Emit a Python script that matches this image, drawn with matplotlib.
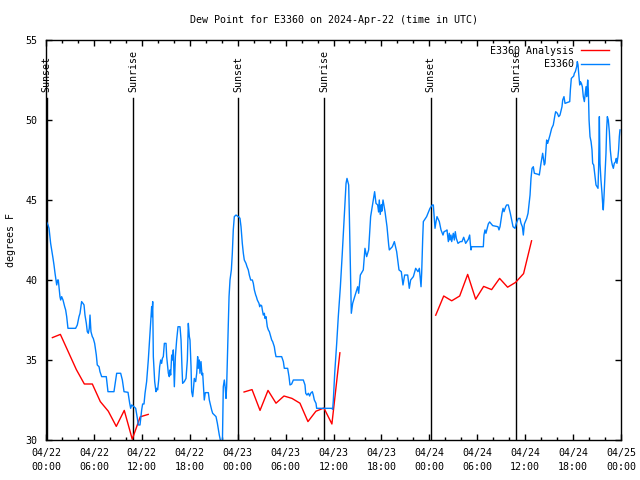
import numpy as np
import matplotlib
matplotlib.use('Agg')
import matplotlib.pyplot as plt

# hours after 2024-04-22 00:00 UTC
analysis_hours = [0.8, 1.8, 2.8, 3.8, 4.8, 5.8, 6.8, 7.8, 8.8, 9.8, 10.8, 11.8, 12.8, np.nan,
                  24.8, 25.8, 26.8, 27.8, 28.8, 29.8, 30.8, 31.8, 32.8, 33.8, 34.8, 35.8, 36.8, np.nan,
                  48.8, 49.8, 50.8, 51.8, 52.8, 53.8, 54.8, 55.8, 56.8, 57.8, 58.8, 59.8, 60.8]
analysis_dewpt = [36.4, 36.6, 35.5, 34.4, 33.5, 33.5, 32.4, 31.8, 30.85, 31.85, 30.05, 31.45, 31.6, np.nan,
                  33.0, 33.15, 31.85, 33.1, 32.3, 32.75, 32.6, 32.3, 31.15, 31.8, 32.0, 31.0, 35.45, np.nan,
                  37.8, 39.0, 38.7, 39.0, 40.35, 38.8, 39.6, 39.4, 40.1, 39.55, 39.85, 40.4, 42.45]

obs_hours = [0.1, 0.25, 0.38, 0.58, 0.75, 0.88, 1.0, 1.13, 1.25, 1.34, 1.46, 1.54, 1.63, 1.75, 1.84,
             1.96, 2.13, 2.34, 2.46, 2.59, 2.75, 3.71, 3.92, 4.13, 4.26, 4.46, 4.63, 4.76, 4.88, 5.05,
             5.17, 5.3, 5.42, 5.51, 5.63, 5.8, 5.92, 6.09, 6.3, 6.42, 6.64, 6.76, 6.97, 7.55, 7.76,
             8.51, 8.72, 8.85, 9.35, 9.56, 9.77, 10.27, 10.48, 10.6, 10.73, 11.02, 11.23, 11.44, 11.56,
             11.77, 11.98, 12.1, 12.27, 12.4, 12.6, 12.81, 13.02, 13.15, 13.23, 13.27, 13.36, 13.44,
             13.61, 13.77, 13.86, 13.98, 14.11, 14.23, 14.36, 14.48, 14.57, 14.69, 14.82, 15.03, 15.11,
             15.32, 15.44, 15.53, 15.61, 15.74, 15.86, 15.94, 16.07, 16.2, 16.36, 16.53, 16.78, 16.91,
             17.03, 17.11, 17.32, 17.53, 17.7, 17.82, 17.95, 18.03, 18.16, 18.24, 18.37, 18.45, 18.57,
             18.74, 18.87, 18.99, 19.07, 19.2, 19.28, 19.41, 19.53, 19.62, 19.82, 19.95, 20.33, 20.45,
             20.62, 20.74, 20.87, 21.29, 21.46, 21.58, 21.7, 21.83, 21.95, 22.08, 22.2, 22.33, 22.45,
             22.54, 22.62, 22.71, 22.83, 22.92, 23.04, 23.21, 23.33, 23.45, 23.58, 23.79, 23.96, 24.2,
             24.29, 24.42, 24.58, 24.71, 24.83, 25.04, 25.17, 25.33, 25.46, 25.63, 25.84, 25.96, 26.09,
             26.26, 26.34, 26.46, 26.67, 26.76, 26.88, 27.01, 27.09, 27.21, 27.34, 27.42, 27.55, 27.71,
             27.84, 27.97, 28.09, 28.26, 28.38, 28.59, 28.68, 28.8, 29.51, 29.72, 29.84, 30.26, 30.43,
             30.55, 30.76, 30.97, 32.22, 32.43, 32.52, 32.68, 32.85, 33.01, 33.14, 33.35, 33.47, 33.6,
             33.81, 33.89, 35.77, 35.9, 35.98, 36.06, 36.15, 36.4, 36.6, 36.86, 37.1, 37.35, 37.57,
             37.69, 37.9, 37.98, 38.15, 38.23, 38.4, 38.78, 39.03, 39.15, 39.36, 39.73, 39.94, 40.15,
             40.4, 40.65, 40.91, 41.15, 41.32, 41.53, 41.65, 41.73, 41.85, 41.98, 42.05, 42.2, 42.45,
             42.7, 42.91, 42.99, 43.37, 43.62, 43.91, 44.2, 44.49, 44.7, 44.91, 45.29, 45.49, 45.66,
             46.0, 46.29, 46.58, 46.75, 46.96, 47.04, 47.17, 47.25, 47.66, 48.08, 48.37, 48.5, 48.71,
             48.84, 48.96, 49.25, 49.46, 49.71, 49.84, 50.09, 50.21, 50.38, 50.5, 50.59, 50.71, 50.8,
             51.0, 51.13, 51.25, 51.38, 51.59, 51.88, 52.09, 52.3, 52.55, 52.88, 53.05, 53.13, 53.22,
             53.3, 54.76, 54.84, 54.97, 55.09, 55.38, 55.55, 55.93, 56.6, 56.72, 56.85, 57.1, 57.23,
             57.35, 57.56, 57.68, 57.89, 58.14, 58.35, 58.48, 58.73, 58.89, 59.14, 59.35, 59.48, 59.65,
             59.77, 59.9, 60.19, 60.36, 60.48, 60.61, 60.73, 60.86, 61.02, 61.15, 61.65, 61.77, 61.98,
             62.19, 62.4, 62.48, 62.69, 62.82, 63.11, 63.32, 63.52, 63.73, 63.82, 64.03, 64.2, 64.36,
             64.61, 64.7, 64.86, 64.99, 65.58, 65.66, 65.78, 66.08, 66.16, 66.28, 66.45, 66.53, 66.62,
             66.7, 66.83, 66.91, 67.04, 67.16, 67.28, 67.41, 67.53, 67.62, 67.7, 67.83, 67.91, 68.0,
             68.12, 68.25, 68.37, 68.45, 68.58, 68.7, 68.79, 68.87, 69.12, 69.2, 69.29, 69.37, 69.49,
             69.62, 69.7, 69.78, 69.87, 70.0, 70.12, 70.2, 70.29, 70.41, 70.54, 70.66, 70.79, 70.91,
             71.04, 71.16, 71.33, 71.41, 71.49, 71.62, 71.7, 71.79, 71.87]
obs_dewpt = [43.6, 43.44, 43.23, 42.29, 41.77, 41.35, 40.94, 40.42, 40.0, 39.69, 40.0, 40.0, 39.58, 38.96, 38.75,
             38.96, 38.75, 38.33, 38.13, 37.71, 36.98, 36.98, 37.19, 37.71, 37.92, 38.65, 38.54, 38.44, 37.81, 37.29,
             36.77, 36.67, 36.98, 37.81, 36.77, 36.46, 36.35, 36.04, 35.31, 34.69, 34.58, 34.27, 33.96, 33.96, 33.02,
             33.02, 33.75, 34.17, 34.17, 33.75, 33.02, 32.98, 32.29, 31.98, 32.19, 32.08, 31.98, 31.35, 30.94,
             30.94, 31.88, 32.25, 32.25, 32.92, 33.65, 35.0, 36.67, 37.71, 38.33, 37.71, 38.65, 35.21,
             33.65, 33.02, 33.23, 33.13, 33.75, 34.58, 35.0, 34.79, 35.1, 35.21, 36.04, 36.04, 35.21,
             34.17, 33.96, 34.38, 34.06, 35.31, 35.0, 35.63, 33.33, 35.21, 36.25, 37.08, 37.08, 36.25,
             34.48, 33.54, 33.65, 33.85, 35.0, 37.29, 36.46, 36.25, 34.58, 33.02, 32.71, 33.13, 33.85,
             33.65, 34.17, 35.21, 34.48, 35.0, 34.17, 34.9, 34.06, 34.17, 32.5, 32.96, 32.96, 32.5,
             32.13, 31.88, 31.67, 31.46, 31.04, 30.67, 30.31, 30.0, 29.5, 29.5, 33.33, 33.75, 33.23,
             32.6, 33.33, 35.0, 37.19, 38.96, 40.0, 40.63, 41.67, 43.13, 43.96, 44.06, 44.0, 43.92,
             43.85, 43.33, 42.29, 41.67, 41.25, 41.04, 40.83, 40.63, 40.31, 40.0, 40.0, 39.79, 39.38,
             39.06, 38.96, 38.75, 38.54, 38.33, 38.44, 38.38, 38.13, 37.81, 37.92, 37.6, 37.71, 37.08,
             36.88, 36.77, 36.56, 36.25, 36.15, 35.83, 35.52, 35.21, 35.21, 34.9, 34.48, 34.48, 33.96,
             33.44, 33.5, 33.75, 33.75, 33.44, 32.92, 32.81, 32.92, 32.75, 32.92, 33.02, 32.81, 32.5,
             32.29, 31.98, 31.98, 31.92, 32.5, 33.33, 34.17, 36.04, 37.71, 39.58, 41.67, 44.06, 46.04,
             46.35, 45.94, 44.17, 39.79, 37.92, 38.54, 39.17, 39.58, 39.17, 40.31, 40.63, 41.98, 41.46,
             41.88, 43.96, 44.79, 45.52, 44.79, 44.69, 44.25, 45.0, 44.1, 44.7, 44.3, 45.0, 44.27,
             43.33, 42.19, 41.88, 42.08, 42.4, 41.77, 40.63, 40.52, 39.69, 40.31, 40.31, 39.48, 40.0,
             40.21, 40.73, 40.52, 40.73, 39.58, 40.42, 42.6, 43.65, 43.96, 44.48, 44.69, 44.69, 43.23,
             43.65, 43.96, 43.65, 43.13, 42.81, 43.02, 43.08, 43.13, 42.4, 42.92, 42.5, 42.81, 42.4,
             42.92, 42.5, 43.02, 42.6, 42.29, 42.4, 42.4, 42.67, 42.29, 42.54, 42.81, 42.29, 41.88,
             42.08, 42.08, 42.81, 43.13, 42.92, 43.5, 43.63, 43.4, 43.33, 43.13, 43.33, 44.17, 44.48,
             44.27, 44.58, 44.69, 44.69, 44.17, 43.65, 43.33, 43.23, 43.54, 43.85, 43.85, 43.54, 43.33,
             42.81, 43.5, 43.85, 44.17, 44.69, 45.31, 46.35, 46.98, 47.08, 46.67, 46.6, 46.56, 47.29,
             47.92, 47.19, 47.29, 48.75, 48.54, 49.06, 49.48, 49.69, 50.31, 50.52, 50.42, 50.21, 50.31,
             50.83, 51.25, 51.46, 51.04, 51.15, 51.88, 52.6, 52.75, 52.92, 53.02, 53.33, 53.65, 53.44,
             52.92, 52.19, 52.4, 52.29, 52.08, 51.46, 51.15, 51.67, 52.08, 51.46, 52.5, 51.88, 50.0,
             48.96, 48.65, 48.13, 47.29, 47.19, 46.67, 46.25, 45.94, 45.73, 47.08, 50.21, 47.29, 46.25,
             45.42, 44.79, 44.38, 45.21, 46.56, 47.92, 49.38, 50.21, 50.0, 49.27, 48.13, 47.5, 47.19,
             46.98, 47.29, 47.4, 47.6, 47.29, 47.71, 48.13, 48.96, 49.38]

sun_hours = [0.1, 10.9, 24.08, 34.85, 48.15, 58.85]
sun_labels = ['Sunset', 'Sunrise', 'Sunset', 'Sunrise', 'Sunset', 'Sunrise']

tick_hours = [0, 6, 12, 18, 24, 30, 36, 42, 48, 54, 60, 66, 72]
tick_labels = ['04/22\n00:00', '04/22\n06:00', '04/22\n12:00', '04/22\n18:00',
               '04/23\n00:00', '04/23\n06:00', '04/23\n12:00', '04/23\n18:00',
               '04/24\n00:00', '04/24\n06:00', '04/24\n12:00', '04/24\n18:00',
               '04/25\n00:00']

plt.rcParams['font.family'] = ['DejaVu Sans Mono']
plt.rcParams['font.size'] = 7.2

fig = plt.figure(figsize=(6.4, 4.8), dpi=100)
ax = fig.add_axes([46/640, 40/480, 575/640, 400/480])

for h, lab in zip(sun_hours, sun_labels):
    ax.plot([h, h], [30, 51.4], color='black', lw=1.0)
    ax.text(h, 51.75, lab, rotation=90, ha='center', va='bottom')

ax.plot(analysis_hours, analysis_dewpt, color='#ff0000', lw=1.0, label='E3360 Analysis')
ax.plot(obs_hours, obs_dewpt, color='#0080ff', lw=1.0, label='E3360')

ax.set_xlim(0, 72)
ax.set_ylim(30, 55)
ax.set_xticks(tick_hours)
ax.set_xticklabels(tick_labels, linespacing=1.45)
ax.set_xticks(np.arange(0, 73, 2), minor=True)
ax.set_yticks([30, 35, 40, 45, 50, 55])
ax.tick_params(which='both', direction='in', top=True, right=True, width=1)
ax.tick_params(which='major', length=4.5, pad=6)
ax.tick_params(which='minor', length=2.5)
for s in ax.spines.values():
    s.set_linewidth(1)

ax.set_title('Dew Point for E3360 on 2024-Apr-22 (time in UTC)', fontsize=7.2, pad=12)
ax.set_ylabel('degrees F', labelpad=7)

ax.legend(loc='upper right', frameon=False, markerfirst=False, handlelength=2.8,
          handletextpad=0.7, labelspacing=0.35, borderaxespad=0.2,
          bbox_to_anchor=(0.99, 1.0))

fig.savefig('out.png', dpi=100)
